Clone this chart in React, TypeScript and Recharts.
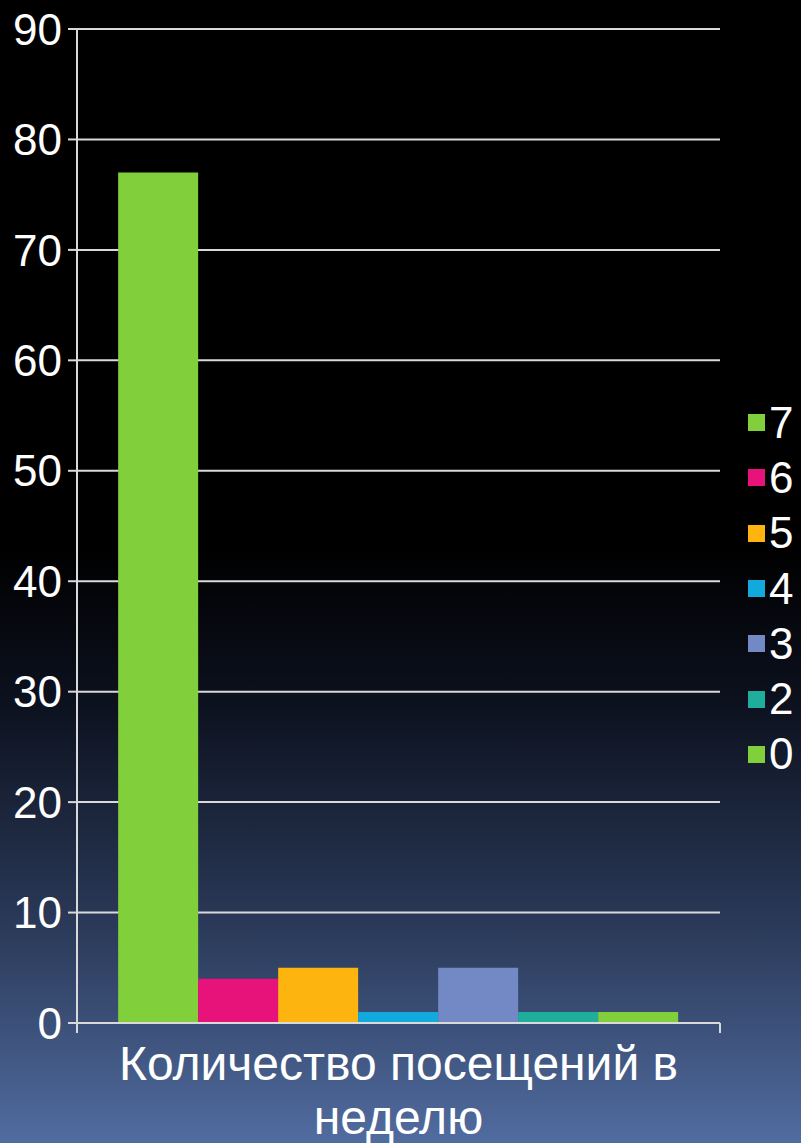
import { BarChart, Bar, XAxis, YAxis, CartesianGrid } from 'recharts';

const category = 'Количество посещений в неделю';
const categoryLines = ['Количество посещений в', 'неделю'];
const seriesNames = ['7', '6', '5', '4', '3', '2', '0'];
const seriesValues = [77, 4, 5, 1, 5, 1, 1];
const seriesColors = ['#82cf3c', '#e8137a', '#fdb40f', '#12a9dc', '#7289c6', '#1fae9b', '#82cf3c'];
const yTicks = [0, 10, 20, 30, 40, 50, 60, 70, 80, 90];

const row: Record<string, any> = { name: category };
seriesNames.forEach((s, i) => { row['s' + s] = seriesValues[i]; });
const data = [row];

const FONT = '"Liberation Sans", Arial, sans-serif';

function CategoryTick(props: any) {
  const { x, y } = props;
  const w = props.width && props.width > 100 ? props.width : 643;
  return (
    <g>
      <line x1={x - w / 2} y1={y} x2={x - w / 2} y2={y + 10} stroke="#d9d9d9" strokeWidth={2} />
      <line x1={x + w / 2} y1={y} x2={x + w / 2} y2={y + 10} stroke="#d9d9d9" strokeWidth={2} />
      {categoryLines.map((t, i) => (
        <text key={i} x={x} y={y + 57 + i * 54} textAnchor="middle" fill="#fff" fontSize={48} fontFamily={FONT}>
          {t}
        </text>
      ))}
    </g>
  );
}

function SideLegend() {
  return (
    <div style={{ position: 'absolute', left: 748, top: 395, fontFamily: FONT }}>
      {seriesNames.map((s, i) => (
        <div key={s} style={{ display: 'flex', alignItems: 'center', height: 55.3 }}>
          <span style={{ width: 17, height: 17, background: seriesColors[i], display: 'inline-block' }} />
          <span style={{ color: '#fff', fontSize: 44, marginLeft: 4, lineHeight: '44px' }}>{s}</span>
        </div>
      ))}
    </div>
  );
}

export default function App() {
  return (
    <div
      style={{
        position: 'relative',
        width: 801,
        height: 1143,
        background: 'linear-gradient(to bottom, #000 0%, #000 48%, #0d1220 62%, #2c3c5c 82%, #516ca0 100%)',
      }}
    >
      <style>{'body{margin:0}'}</style>
      <BarChart
        width={801}
        height={1143}
        data={data}
        margin={{ top: 29, right: 81, left: 0, bottom: 0 }}
        barGap={0}
        barCategoryGap="6.4%"
      >
        <CartesianGrid vertical={false} stroke="#d9d9d9" strokeWidth={2} />
        <XAxis
          dataKey="name"
          height={120}
          axisLine={{ stroke: '#d9d9d9', strokeWidth: 2 }}
          tickLine={false}
          tickSize={0}
          tickMargin={0}
          tick={<CategoryTick />}
          interval={0}
        />
        <YAxis
          width={77}
          domain={[0, 90]}
          ticks={yTicks}
          interval={0}
          axisLine={{ stroke: '#d9d9d9', strokeWidth: 2 }}
          tickLine={{ stroke: '#d9d9d9', strokeWidth: 2 }}
          tickSize={9}
          tickMargin={6}
          tick={{ fill: '#fff', fontSize: 44, fontFamily: FONT }}
        />
        {seriesNames.map((s, i) => (
          <Bar key={s} dataKey={'s' + s} name={s} fill={seriesColors[i]} isAnimationActive={false} />
        ))}
      </BarChart>
      <SideLegend />
    </div>
  );
}
